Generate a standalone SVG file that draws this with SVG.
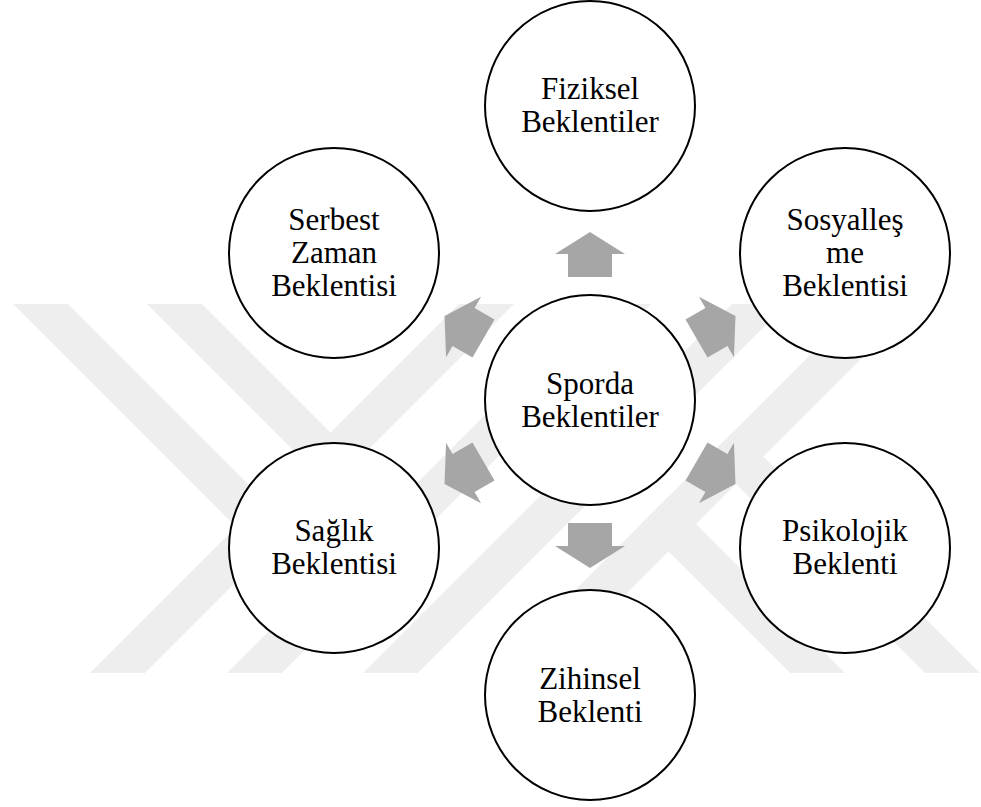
<svg xmlns="http://www.w3.org/2000/svg" width="981" height="807" viewBox="0 0 981 807">
<style>
.wm{fill:#eeeeee}
.node circle{fill:#ffffff;stroke:#000000;stroke-width:2}
.node text{font-family:"Liberation Serif","Times New Roman",serif;font-size:31px;fill:#000000;text-anchor:middle}
.arr{fill:#a6a6a6}
</style>
<defs>
<polygon id="arrow" points="590,232 625,254 612,254 612,277 568,277 568,254 555,254"/>
</defs>
<rect width="981" height="807" fill="#ffffff"/>
<g id="watermark">
<polygon class="wm" points="90,673 145,673 514,304 459,304"/>
<polygon class="wm" points="227,673 282,673 651,304 596,304"/>
<polygon class="wm" points="363,673 418,673 787,304 732,304"/>
<polygon class="wm" points="492,673 547,673 916,304 861,304"/>
<polygon class="wm" points="13,304 68,304 291,527 263.5,554.5"/>
<polygon class="wm" points="147,304 202,304 358,460 330.5,487.5"/>
<polygon class="wm" points="641,524 668.5,496.5 845,673 790,673"/>
<polygon class="wm" points="708.5,456.5 736,429 980,673 925,673"/>
</g>
<g id="connectors">
<use href="#arrow" class="arr"/>
<use href="#arrow" class="arr" transform="rotate(60 590 400)"/>
<use href="#arrow" class="arr" transform="rotate(120 590 400)"/>
<use href="#arrow" class="arr" transform="rotate(180 590 400)"/>
<use href="#arrow" class="arr" transform="rotate(240 590 400)"/>
<use href="#arrow" class="arr" transform="rotate(300 590 400)"/>
</g>
<g id="center" class="node">
<circle cx="590" cy="400" r="105"/>
<text x="590" y="394">Sporda</text>
<text x="590" y="427">Beklentiler</text>
</g>
<g id="fiziksel" class="node">
<circle cx="590" cy="106" r="105"/>
<text x="590" y="99">Fiziksel</text>
<text x="590" y="132">Beklentiler</text>
</g>
<g id="sosyallesme" class="node">
<circle cx="845" cy="253" r="105"/>
<text x="845" y="230">Sosyalleş</text>
<text x="845" y="263">me</text>
<text x="845" y="296">Beklentisi</text>
</g>
<g id="psikolojik" class="node">
<circle cx="845" cy="548" r="105"/>
<text x="845" y="541">Psikolojik</text>
<text x="845" y="574">Beklenti</text>
</g>
<g id="zihinsel" class="node">
<circle cx="590" cy="695" r="105"/>
<text x="590" y="689">Zihinsel</text>
<text x="590" y="722">Beklenti</text>
</g>
<g id="saglik" class="node">
<circle cx="334" cy="548" r="105"/>
<text x="334" y="541">Sağlık</text>
<text x="334" y="574">Beklentisi</text>
</g>
<g id="serbest" class="node">
<circle cx="334" cy="253" r="105"/>
<text x="334" y="230">Serbest</text>
<text x="334" y="263">Zaman</text>
<text x="334" y="296">Beklentisi</text>
</g>
</svg>
